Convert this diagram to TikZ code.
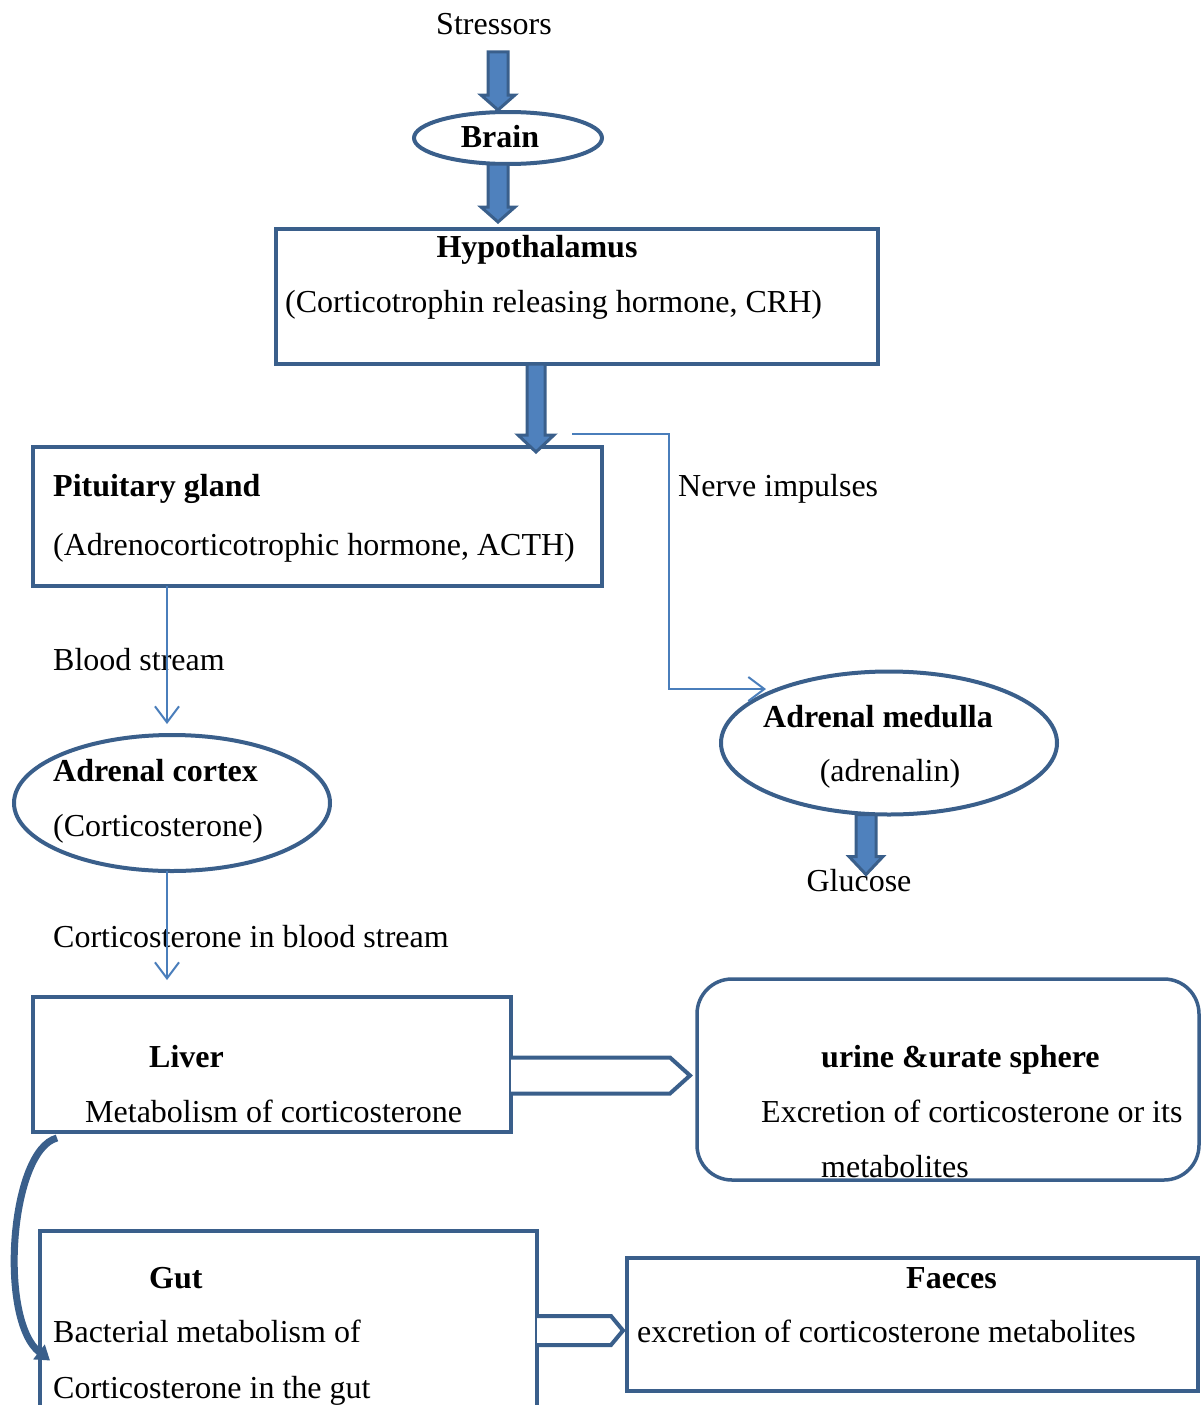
\documentclass[tikz,border=0pt]{standalone}
\usepackage{fontspec}
\setmainfont{Liberation Serif}
\usetikzlibrary{shapes.geometric,arrows.meta,calc}
\definecolor{dk}{HTML}{3A5F8B}
\definecolor{lt}{HTML}{4A7EBB}
\definecolor{fl}{HTML}{4F81BD}
\tikzset{
  box/.style={draw=dk,line width=3.5pt,rectangle,inner sep=0pt,outer sep=0pt,anchor=north west},
  ell/.style={draw=dk,line width=4pt,ellipse,inner sep=0pt,outer sep=0pt},
  txt/.style={inner sep=0pt,anchor=base west,font=\fontsize{32}{38}\selectfont},
  ctxt/.style={txt,anchor=base},
  btxt/.style={txt,font=\fontsize{32}{38}\selectfont\bfseries},
  bctxt/.style={btxt,anchor=base},
  thin/.style={draw=lt,line width=1.8pt,-{Straight Barb[length=16pt,width=24pt,line width=2pt]}},
  blk/.style={draw=dk,fill=fl,line width=3pt,line join=miter},
  pent/.style={draw=dk,fill=white,line width=4pt,line join=miter}
}
% vertical block arrow: #1 start, #2 tip, #3 shaft half, #4 head half, #5 head length
\newcommand\vblockarrow[5]{%
  \path[blk] let \p1=#1, \p2=#2 in
    (\x1-#3,\y1) -- (\x1+#3,\y1) -- (\x1+#3,\y2+#5) -- (\x1+#4,\y2+#5) --
    (\x1,\y2) -- (\x1-#4,\y2+#5) -- (\x1-#3,\y2+#5) -- cycle;}
% horizontal pentagon arrow: #1 start (mid), #2 tip, #3 half height, #4 head length
\newcommand\hpentarrow[4]{%
  \path[pent] let \p1=#1, \p2=#2 in
    (\x1,\y2+#3) -- (\x2-#4,\y2+#3) -- (\x2,\y2) -- (\x2-#4,\y2-#3) -- (\x1,\y2-#3);}
\begin{document}
\begin{tikzpicture}[x=1pt,y=-1pt]
\clip (0,0) rectangle (1201,1405);
% text
\node[ctxt] (stress) at (494,35) {Stressors};
\node[ell,minimum width=188,minimum height=52] (brain) at (508,138) {};
\node[bctxt] (braint) at (500,147) {Brain};
\node[box,minimum width=602,minimum height=135] (hyp) at (276,229) {};
\node[bctxt] (hypt1) at (537,257) {Hypothalamus};
\node[txt] (hypt2) at (285,312) {(Corticotrophin releasing hormone, CRH)};
\node[box,minimum width=569,minimum height=139] (pit) at (33,447) {};
\node[btxt] (pitt1) at (53,496) {Pituitary gland};
\node[txt] (pitt2) at (53,555) {(Adrenocorticotrophic hormone, ACTH)};
\node[txt] (nerve) at (678,496) {Nerve impulses};
\node[txt] (blood) at (53,670) {Blood stream};
\node[ell,minimum width=336,minimum height=143] (med) at (889,743) {};
\node[bctxt] (medt1) at (878,727) {Adrenal medulla};
\node[ctxt] (medt2) at (890,781) {(adrenalin)};
\node[ctxt] (gluc) at (859,891) {Glucose};
\node[ell,minimum width=316,minimum height=136] (cor) at (172,803) {};
\node[btxt] (cort1) at (53,781) {Adrenal cortex};
\node[txt] (cort2) at (53,836) {(Corticosterone)};
\node[txt] (cbs) at (53,947) {Corticosterone in blood stream};
\node[box,minimum width=478,minimum height=135] (liver) at (33,997) {};
\node[btxt] (livt1) at (149,1067) {Liver};
\node[txt] (livt2) at (85,1122) {Metabolism of corticosterone};
\node[box,rounded corners=35pt,minimum width=502,minimum height=201] (urine) at (697,979) {};
\node[btxt] (urt1) at (821,1067) {urine \&urate sphere};
\node[txt] (urt2) at (761,1122) {Excretion of corticosterone or its};
\node[txt] (urt3) at (821,1177) {metabolites};
\node[box,minimum width=497,minimum height=199] (gut) at (40,1231) {};
\node[btxt] (gutt1) at (149,1288) {Gut};
\node[txt] (gutt2) at (53,1342) {Bacterial metabolism of};
\node[txt] (gutt3) at (53,1398) {Corticosterone in the gut};
\node[box,minimum width=571,minimum height=133] (fae) at (627,1258) {};
\node[btxt] (faet1) at (906,1288) {Faeces};
\node[txt] (faet2) at (637,1342) {excretion of corticosterone metabolites};
% block arrows
\coordinate (a1s) at (498,52);
\coordinate (a1e) at (498,110);
\vblockarrow{(a1s)}{(a1e)}{10pt}{17pt}{15pt}
\vblockarrow{($(brain.south)+(-10,0)$)}{($(brain.south)+(-10,58)$)}{10pt}{17pt}{15pt}
\vblockarrow{($(hyp.south west)+(260,0)$)}{($(pit.north west)+(503,5)$)}{9pt}{18pt}{17pt}
\vblockarrow{($(med.south)+(-23,0)$)}{($(med.south)+(-23,60)$)}{10pt}{17pt}{18pt}
\hpentarrow{($(liver.east)+(0,8)$)}{($(urine.west)+(-7,-4)$)}{18pt}{20pt}
\hpentarrow{($(gut.north east)+(0,98)$)}{($(fae.west)+(-4,6)$)}{14.5pt}{12pt}
% thin connectors
\coordinate (nv0) at (572,434);
\coordinate (nv1) at (766,689);
\draw[thin] (nv0) -- (669,434) -- (669,689) -- (nv1);
\coordinate (bsx) at (167,0);
\draw[thin] (bsx |- pit.south) -- ($(bsx |- cor.north)+(0,-11)$);
\draw[thin] (bsx |- cor.south) -- ($(bsx |- liver.north)+(0,-17)$);
% curved arrow liver -> gut
\draw[dk,line width=7pt,-{Triangle[length=14pt,width=18pt]}]
  ($(liver.south west)+(24,6)$) .. controls (10,1150) and (-2,1320) .. ($(gut.west)+(10,30)$);
\end{tikzpicture}
\end{document}
